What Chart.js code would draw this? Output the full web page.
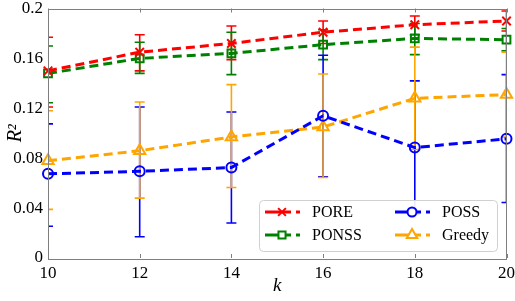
<!DOCTYPE html>
<html><head><meta charset="utf-8">
<script src="https://cdn.jsdelivr.net/npm/chart.js@4/dist/chart.umd.min.js"></script>
<style>html,body{margin:0;padding:0;background:#fff}#wrap{width:515px;height:301px}</style>
</head><body><div id="wrap"><canvas id="c" width="515" height="301"></canvas></div>
<script>
const kValues = [10, 12, 14, 16, 18, 20];
const yTickValues = [0, 0.04, 0.08, 0.12, 0.16, 0.2];
const seriesNames = ['PORE', 'PONSS', 'POSS', 'Greedy'];
const PORE = [0.150, 0.165, 0.172, 0.181, 0.187, 0.190];
const PORE_lo = [0.121, 0.150, 0.159, 0.172, 0.179, 0.182];
const PORE_hi = [0.177, 0.179, 0.186, 0.190, 0.194, 0.198];
const PONSS = [0.148, 0.160, 0.164, 0.171, 0.176, 0.175];
const PONSS_lo = [0.1245, 0.148, 0.147, 0.159, 0.163, 0.166];
const PONSS_hi = [0.170, 0.173, 0.181, 0.183, 0.188, 0.184];
const POSS = [0.0675, 0.0695, 0.0725, 0.114, 0.0885, 0.0955];
const POSS_lo = [0.0255, 0.017, 0.028, 0.065, 0.035, 0.0445];
const POSS_hi = [0.1075, 0.121, 0.117, 0.1625, 0.142, 0.147];
const Greedy = [0.078, 0.086, 0.097, 0.105, 0.128, 0.131];
const Greedy_lo = [0.039, 0.048, 0.0565, 0.0645, 0.087, 0.097];
const Greedy_hi = [0.118, 0.125, 0.139, 0.1475, 0.169, 0.165];

const colors = ['#ff0000', '#008000', '#0000ff', '#ffa500'];
const styles = ['crossRot', 'rect', 'circle', 'triangle'];
const radii = [6, 5.5, 5, 6.5];
const vals = [PORE, PONSS, POSS, Greedy];
const los = [PORE_lo, PONSS_lo, POSS_lo, Greedy_lo];
const his = [PORE_hi, PONSS_hi, POSS_hi, Greedy_hi];

const datasets = seriesNames.map((n, i) => ({
  label: n,
  data: kValues.map((k, j) => ({x: k, y: vals[i][j], lo: los[i][j], hi: his[i][j]})),
  borderColor: colors[i],
  backgroundColor: 'rgba(255,255,255,0)',
  pointBackgroundColor: 'rgba(255,255,255,0)',
  pointBorderColor: colors[i],
  pointStyle: styles[i],
  pointRadius: radii[i],
  pointBorderWidth: 2,
  borderWidth: 3,
  borderDash: [9, 5],
  tension: 0,
  clip: false
}));

const frame = {
  id: 'frame',
  beforeDatasetsDraw(chart) {
    const ctx = chart.ctx, a = chart.chartArea;
    const xs = chart.scales.x, ys = chart.scales.y;
    ctx.save();
    ctx.beginPath(); ctx.rect(a.left, a.top, a.right - a.left, a.bottom - a.top); ctx.clip();
    chart.data.datasets.forEach((ds, i) => {
      ctx.strokeStyle = ds.borderColor; ctx.lineWidth = 1.6; ctx.setLineDash([]);
      ds.data.forEach(p => {
        const x = xs.getPixelForValue(p.x), y1 = ys.getPixelForValue(p.lo), y2 = ys.getPixelForValue(p.hi);
        ctx.beginPath();
        ctx.moveTo(x, y1); ctx.lineTo(x, y2);
        ctx.moveTo(x - 5, y1); ctx.lineTo(x + 5, y1);
        ctx.moveTo(x - 5, y2); ctx.lineTo(x + 5, y2);
        ctx.stroke();
      });
    });
    ctx.restore();
  },
  afterDraw(chart) {
    const ctx = chart.ctx, a = chart.chartArea;
    const xs = chart.scales.x;
    ctx.save();
    ctx.strokeStyle = '#7f7f7f'; ctx.lineWidth = 1; ctx.setLineDash([]);
    ctx.strokeRect(Math.round(a.left) + 0.5, Math.round(a.top) + 0.5, Math.round(a.right - a.left) - 1, Math.round(a.bottom - a.top));
    ctx.beginPath();
    kValues.forEach(k => {
      const x = Math.round(xs.getPixelForValue(k)) + 0.5;
      ctx.moveTo(x, a.bottom); ctx.lineTo(x, a.bottom - 4);
      ctx.moveTo(x, a.top); ctx.lineTo(x, a.top + 4);
    });
    ctx.stroke();
    // legend
    const lx = 259, ly = 200, lw = 238, lh = 51;
    ctx.fillStyle = 'rgba(255,255,255,0.92)';
    ctx.strokeStyle = '#d0d0d0';
    ctx.beginPath(); ctx.roundRect(lx + 0.5, ly + 0.5, lw, lh, 4); ctx.fill(); ctx.stroke();
    const pos = [[265, 212], [265, 235], [395, 212], [395, 235]];
    chart.data.datasets.forEach((ds, i) => {
      const [x0, y0] = pos[i];
      ctx.strokeStyle = ds.borderColor; ctx.lineWidth = 3;
      ctx.setLineDash([]);
      ctx.beginPath(); ctx.moveTo(x0, y0); ctx.lineTo(x0 + 26, y0); ctx.stroke();
      ctx.beginPath(); ctx.moveTo(x0 + 31, y0); ctx.lineTo(x0 + 35, y0); ctx.stroke();
      ctx.lineWidth = 2;
      ctx.fillStyle = '#fff';
      Chart.helpers.drawPoint(ctx, {pointStyle: ds.pointStyle, radius: ds.pointRadius - 0.5, borderWidth: 2}, x0 + 17, y0);
      ctx.fillStyle = '#000';
      ctx.font = '16px "Liberation Serif"';
      ctx.textBaseline = 'middle'; ctx.textAlign = 'left';
      ctx.fillText(ds.label, x0 + 47, y0 + 1);
    });
    ctx.restore();
  }
};

new Chart(document.getElementById('c'), {
  type: 'line',
  data: {datasets},
  options: {
    responsive: false, animation: false,
    layout: {padding: {top: 7, right: 3, left: 0, bottom: 0}},
    plugins: {legend: {display: false}, tooltip: {enabled: false}},
    scales: {
      x: {
        type: 'linear', min: 10, max: 20,
        afterBuildTicks: s => { s.ticks = kValues.map(v => ({value: v})); },
        grid: {display: false, drawTicks: false}, border: {display: false},
        ticks: {color: '#000', font: {family: 'Liberation Serif', size: 17}, padding: 5, maxRotation: 0, autoSkip: false},
        title: {display: true, text: 'k', color: '#000', font: {family: 'Liberation Serif', size: 19, style: 'italic'}, padding: {top: 3}},
        afterFit: s => { s.height = 43; s.paddingLeft = 0; s.paddingRight = 0; }
      },
      y: {
        min: 0, max: 0.2,
        afterBuildTicks: s => { s.ticks = yTickValues.map(v => ({value: v})); },
        grid: {display: false, drawTicks: false}, border: {display: false},
        ticks: {color: '#000', font: {family: 'Liberation Serif', size: 17}, padding: 5,
          callback: v => String(+v.toFixed(2))},
        title: {display: true, text: 'R²', color: '#000', font: {family: 'Liberation Serif', size: 20, style: 'italic'}, padding: {bottom: 0}},
        afterFit: s => { s.width = 48; s.paddingTop = 0; s.paddingBottom = 0; }
      }
    }
  },
  plugins: [frame]
});
</script>
</body></html>
